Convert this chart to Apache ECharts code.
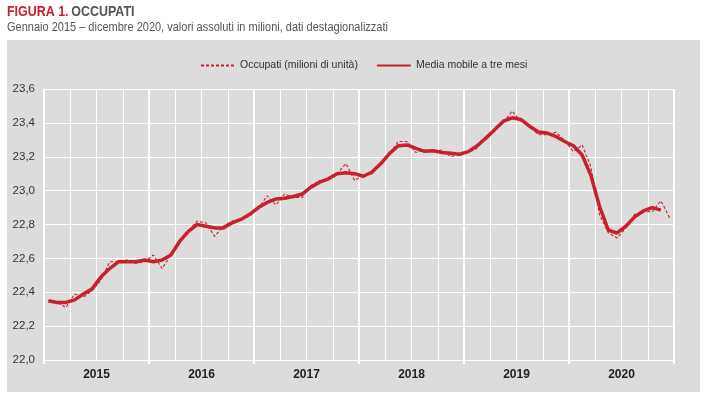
<!DOCTYPE html>
<html><head><meta charset="utf-8">
<script src="https://cdn.jsdelivr.net/npm/echarts@6/dist/echarts.min.js"></script>
<style>html,body{margin:0;padding:0;background:#fff}#c{width:708px;height:397px}</style>
</head><body><div id="c"></div>
<script>
const years = ['2015','2016','2017','2018','2019','2020'];
const months = [];
years.forEach(y => { for (let m = 1; m <= 12; m++) months.push(y + '-' + (m < 10 ? '0' + m : m)); });

const occupati = [
  22.35, 22.34, 22.31, 22.39, 22.37, 22.41, 22.47, 22.58, 22.58, 22.59, 22.57, 22.58,
  22.62, 22.54, 22.62, 22.71, 22.76, 22.82, 22.81, 22.73, 22.79, 22.82, 22.83, 22.85,
  22.895, 22.97, 22.915, 22.98, 22.96, 22.96, 23.03, 23.06, 23.06, 23.10, 23.16, 23.06,
  23.09, 23.10, 23.16, 23.22, 23.29, 23.29, 23.225, 23.24, 23.23, 23.24, 23.20, 23.22,
  23.225, 23.25, 23.32, 23.36, 23.40, 23.47, 23.41, 23.38, 23.33, 23.33, 23.345, 23.295,
  23.23, 23.27, 23.14, 22.855, 22.75, 22.72, 22.78, 22.86, 22.875, 22.875, 22.94, 22.84
];
const mediaMobile = [
  22.35, 22.34, 22.34, 22.355, 22.39, 22.42, 22.49, 22.54, 22.58, 22.58, 22.58, 22.59,
  22.58, 22.59, 22.62, 22.70, 22.76, 22.80, 22.79, 22.78, 22.78, 22.81, 22.83, 22.86,
  22.90, 22.93, 22.95, 22.955, 22.965, 22.98, 23.02, 23.05, 23.07, 23.10, 23.105, 23.10,
  23.085, 23.11, 23.16, 23.22, 23.265, 23.27, 23.25, 23.232, 23.235, 23.225, 23.22, 23.215,
  23.23, 23.265, 23.31, 23.36, 23.41, 23.43, 23.42, 23.38, 23.346, 23.34, 23.32, 23.29,
  23.265, 23.21, 23.09, 22.905, 22.766, 22.75, 22.79, 22.845, 22.88, 22.90, 22.885, null
];
const yTicks = { min: 22.0, max: 23.6, step: 0.2 };

const FONT = '"Liberation Sans", Arial, sans-serif';
const RED = '#c8202f';
const chart = echarts.init(document.getElementById('c'), null, { renderer: 'canvas' });
chart.setOption({
  animation: false,
  backgroundColor: '#ffffff',
  textStyle: { fontFamily: FONT },
  graphic: [
    { type: 'rect', z: -10, shape: { x: 7, y: 40, width: 693, height: 352 }, style: { fill: '#dcdcdc' } },
    { type: 'text', x: 7, y: 4, scaleX: 0.83, style: { rich: {
        a: { fill: '#c8202f', fontWeight: 'bold', fontSize: 15, fontFamily: FONT },
        b: { fill: '#555555', fontWeight: 'bold', fontSize: 15, fontFamily: FONT } },
        text: '{a|FIGURA 1.} {b|OCCUPATI}' } },
    { type: 'text', x: 7, y: 21, scaleX: 0.88, style: { text: 'Gennaio 2015 \u2013 dicembre 2020, valori assoluti in milioni, dati destagionalizzati',
        fill: '#555555', fontSize: 12.5, fontFamily: FONT } }
  ],
  legend: {
    top: 55, left: 195, itemGap: 18, itemWidth: 34, itemHeight: 10,
    textStyle: { fontFamily: FONT, fontSize: 10.5, color: '#333' },
    itemStyle: { opacity: 0 },
    data: [
      { name: 'Occupati (milioni di unità)', itemStyle: { opacity: 0 } },
      { name: 'Media mobile a tre mesi', itemStyle: { opacity: 0 } }
    ]
  },
  grid: { left: 44, right: 34, top: 89, height: 271 },
  xAxis: [
    { type: 'category', data: months, boundaryGap: true,
      axisLabel: { show: false }, axisTick: { show: false }, axisLine: { show: false },
      splitLine: { show: true, interval: (i) => i % 3 === 0, lineStyle: { color: '#ffffff', width: 1 } } },
    { type: 'category', data: years, boundaryGap: true, position: 'bottom',
      axisLabel: { show: true, color: '#222', fontWeight: 'bold', fontSize: 12, fontFamily: FONT, margin: 9 },
      axisTick: { show: true, length: 4, lineStyle: { color: '#ffffff', width: 2 } },
      axisLine: { show: true, lineStyle: { color: '#ffffff', width: 1 } },
      splitLine: { show: true, lineStyle: { color: '#ffffff', width: 2 } } }
  ],
  yAxis: {
    type: 'value', min: yTicks.min, max: yTicks.max, interval: yTicks.step,
    axisLine: { show: true, lineStyle: { color: '#ffffff', width: 1 } },
    axisTick: { show: false },
    axisLabel: { color: '#333', fontSize: 11.5, fontFamily: FONT, margin: 9,
      formatter: v => v.toFixed(1).replace('.', ',') },
    splitLine: { lineStyle: { color: '#ffffff', width: 1 } }
  },
  series: [
    { name: 'Occupati (milioni di unità)', type: 'line', xAxisIndex: 0, data: occupati,
      symbol: 'none', lineStyle: { color: RED, width: 1.1, type: [3, 2] }, itemStyle: { color: RED }, z: 3 },
    { name: 'Media mobile a tre mesi', type: 'line', xAxisIndex: 0, data: mediaMobile,
      symbol: 'none', lineStyle: { color: RED, width: 3.5 }, itemStyle: { color: RED }, z: 2 }
  ]
});
</script></body></html>
